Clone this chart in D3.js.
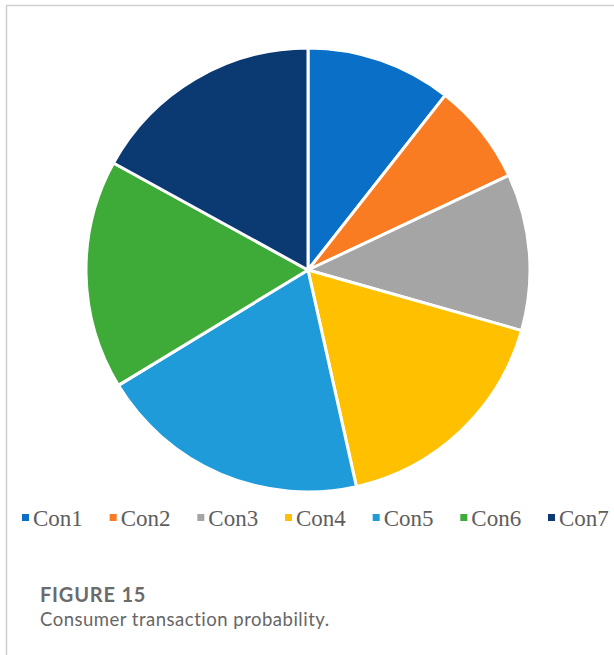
<!DOCTYPE html>
<html>
<head>
<meta charset="utf-8">
<script src="https://cdn.jsdelivr.net/npm/d3@7"></script>
<style>
  html, body { margin: 0; padding: 0; background: #fff; }
  svg { display: block; }
</style>
</head>
<body>
<svg id="chart" width="614" height="655"></svg>
<script>
// Consumer transaction probability by consumer
const categories = ["Con1", "Con2", "Con3", "Con4", "Con5", "Con6", "Con7"];
const values = [0.106, 0.074, 0.114, 0.171, 0.198, 0.167, 0.170];
const colors = ["#0A6FC6", "#F97B22", "#A5A5A5", "#FFC000", "#1F9BDA", "#3EAA38", "#0B3A72"];

const svg = d3.select("#chart");
const W = 614, H = 655;

// Panel frame (top and left rules)
svg.append("line").attr("x1", 6).attr("y1", 5.5).attr("x2", W).attr("y2", 5.5)
  .attr("stroke", "#cfcfcf").attr("stroke-width", 1.5);
svg.append("line").attr("x1", 6.5).attr("y1", 5).attr("x2", 6.5).attr("y2", H)
  .attr("stroke", "#cfcfcf").attr("stroke-width", 1.5);

const data = categories.map((c, i) => ({ name: c, value: values[i], color: colors[i] }));

const cx = 308, cy = 270, r = 222;
const pie = d3.pie().value(d => d.value).sort(null);
const arc = d3.arc().innerRadius(0).outerRadius(r);

const g = svg.append("g").attr("transform", `translate(${cx},${cy})`);
g.selectAll("path")
  .data(pie(data))
  .join("path")
  .attr("d", arc)
  .attr("fill", d => d.data.color)
  .attr("stroke", "#ffffff")
  .attr("stroke-width", 3)
  .attr("stroke-linejoin", "round");

// Legend
const legendX = d3.scalePoint().domain(categories).range([22, 548]);
const legend = svg.append("g").attr("transform", "translate(0,518)");
const item = legend.selectAll("g")
  .data(data)
  .join("g")
  .attr("transform", d => `translate(${legendX(d.name)},0)`);
item.append("rect")
  .attr("x", 0).attr("y", -4).attr("width", 7).attr("height", 7)
  .attr("fill", d => d.color);
item.append("text")
  .attr("x", 11).attr("y", 8)
  .attr("font-family", "'Liberation Serif', 'Times New Roman', serif")
  .attr("font-size", 23)
  .attr("fill", "#5e5e5e")
  .text(d => d.name);

// Caption
svg.append("text")
  .attr("x", 40).attr("y", 602)
  .attr("font-family", "Lato, 'Open Sans', sans-serif")
  .attr("font-size", 20)
  .attr("font-weight", "bold")
  .attr("letter-spacing", 0.8)
  .attr("fill", "#6b6b6b")
  .text("FIGURE 15");
svg.append("text")
  .attr("x", 40).attr("y", 626)
  .attr("font-family", "Lato, 'Open Sans', sans-serif")
  .attr("font-size", 18.5)
  .attr("letter-spacing", 0.5)
  .attr("fill", "#666666")
  .text("Consumer transaction probability.");
</script>
</body>
</html>
